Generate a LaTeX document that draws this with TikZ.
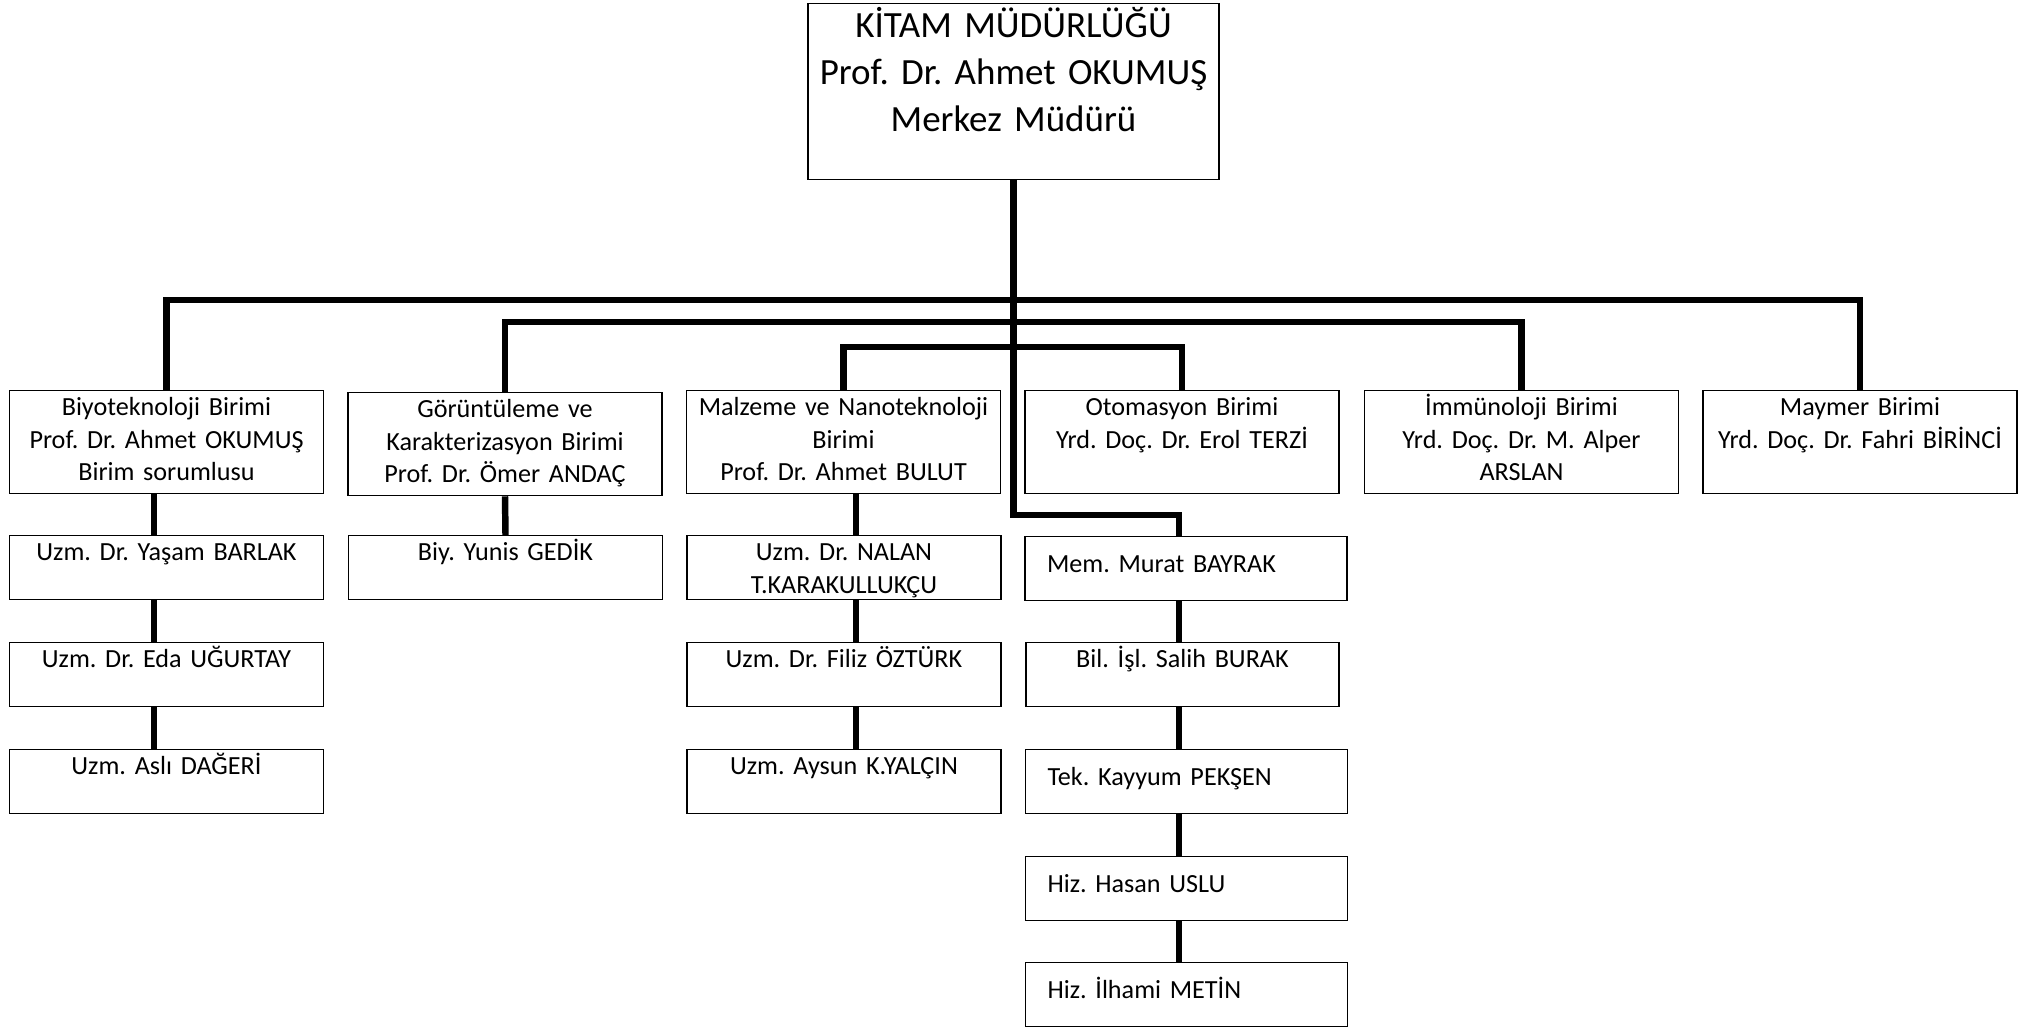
\documentclass[tikz,border=0pt]{standalone}
\usepackage{fontspec}
\setmainfont{Carlito}
\frenchspacing

\tikzset{
	chief/.style={draw, line width=0.9pt, inner sep=0pt, anchor=north, align=center,
		text width=10.275cm, text height=0.85cm, text depth=3.55cm,
		font=\fontsize{26.3}{33.4}\selectfont},
	unit/.style={draw, line width=0.9pt, inner sep=0pt, anchor=north, align=center,
		text width=7.85cm, text height=0.625cm, text depth=1.95cm,
		font=\fontsize{18.6}{23.2}\selectfont},
	staff/.style={draw, line width=0.9pt, inner sep=0pt, anchor=north, align=center,
		text width=7.85cm, text height=0.625cm, text depth=0.975cm,
		font=\fontsize{18.6}{23.2}\selectfont},
	staffleft/.style={staff, inner xsep=0.55cm, align=left,
		text width=6.95cm, text height=0.9cm, text depth=0.7cm},
	link/.style={line width=4.6pt},
}

\begin{document}
\begin{tikzpicture}
				\useasboundingbox (0,0) rectangle (51.1,-25.675);
				
				% Merkez
				\node[chief] (kitam) at (25.3375,-0.075) {KİTAM MÜDÜRLÜĞÜ\\Prof. Dr. Ahmet OKUMUŞ\\Merkez Müdürü};
				
				% Birimler
				\node[unit] (biyo) at (4.1625,-9.75) {Biyoteknoloji Birimi\\Prof. Dr. Ahmet OKUMUŞ\\Birim sorumlusu};
				\node[unit] (goruntu) at (12.625,-9.8) {Görüntüleme ve\\Karakterizasyon Birimi\\Prof. Dr. Ömer ANDAÇ};
				\node[unit] (malzeme) at (21.0875,-9.75) {Malzeme ve Nanoteknoloji\\Birimi\\Prof. Dr. Ahmet BULUT};
				\node[unit] (otomasyon) at (29.55,-9.75) {Otomasyon Birimi\\Yrd. Doç. Dr. Erol TERZİ};
				\node[unit] (immuno) at (38.0375,-9.75) {İmmünoloji Birimi\\Yrd. Doç. Dr. M. Alper\\ARSLAN};
				\node[unit] (maymer) at (46.5,-9.75) {Maymer Birimi\\Yrd. Doç. Dr. Fahri BİRİNCİ};
				
				% Personel
				\node[staff] (yasam) at (4.1625,-13.375) {Uzm. Dr. Yaşam BARLAK};
				\node[staff] (eda) at (4.1625,-16.05) {Uzm. Dr. Eda UĞURTAY};
				\node[staff] (asli) at (4.1625,-18.725) {Uzm. Aslı DAĞERİ};
				\node[staff] (yunis) at (12.6375,-13.375) {Biy. Yunis GEDİK};
				\node[staff] (nalan) at (21.1,-13.375) {Uzm. Dr. NALAN\\T.KARAKULLUKÇU};
				\node[staff] (filiz) at (21.1,-16.05) {Uzm. Dr. Filiz ÖZTÜRK};
				\node[staff] (aysun) at (21.1,-18.725) {Uzm. Aysun K.YALÇIN};
				\node[staffleft] (murat) at (29.65,-13.4) {Mem. Murat BAYRAK};
				\node[staff, text width=7.825cm] (salih) at (29.5625,-16.05) {Bil. İşl. Salih BURAK};
				\node[staffleft] (kayyum) at (29.6625,-18.725) {Tek. Kayyum PEKŞEN};
				\node[staffleft] (hasan) at (29.6625,-21.4) {Hiz. Hasan USLU};
				\node[staffleft] (ilhami) at (29.6625,-24.05) {Hiz. İlhami METİN};
				
				% Baglantilar
				\coordinate (bus1) at (0,-7.5);
				\coordinate (bus2) at (0,-8.05);
				\coordinate (bus3) at (0,-8.675);
				\coordinate (turn) at (0,-12.875);
				\coordinate (aline) at (3.85,0);
				\coordinate (cline) at (21.4,0);
				\coordinate (dline) at (29.475,0);
				
				\draw[link] (biyo.north) -- (biyo.north |- bus1) -- (maymer.north |- bus1) -- (maymer.north);
				\draw[link] (goruntu.north) -- (goruntu.north |- bus2) -- (immuno.north |- bus2) -- (immuno.north);
				\draw[link] (malzeme.north) -- (malzeme.north |- bus3) -- (otomasyon.north |- bus3) -- (otomasyon.north);
				\draw[link] (kitam.south) -- (kitam.south |- turn) -| (murat.north -| dline);
				
				\draw[link] (biyo.south -| aline) -- (yasam.north -| aline);
				\draw[link] (yasam.south -| aline) -- (eda.north -| aline);
				\draw[link] (eda.south -| aline) -- (asli.north -| aline);
				
				\draw[link] (goruntu.south) -- (yunis.north);
				
				\draw[link] (malzeme.south -| cline) -- (nalan.north -| cline);
				\draw[link] (nalan.south -| cline) -- (filiz.north -| cline);
				\draw[link] (filiz.south -| cline) -- (aysun.north -| cline);
				
				\draw[link] (murat.south -| dline) -- (salih.north -| dline);
				\draw[link] (salih.south -| dline) -- (kayyum.north -| dline);
				\draw[link] (kayyum.south -| dline) -- (hasan.north -| dline);
				\draw[link] (hasan.south -| dline) -- (ilhami.north -| dline);
				
\end{tikzpicture}
\end{document}
